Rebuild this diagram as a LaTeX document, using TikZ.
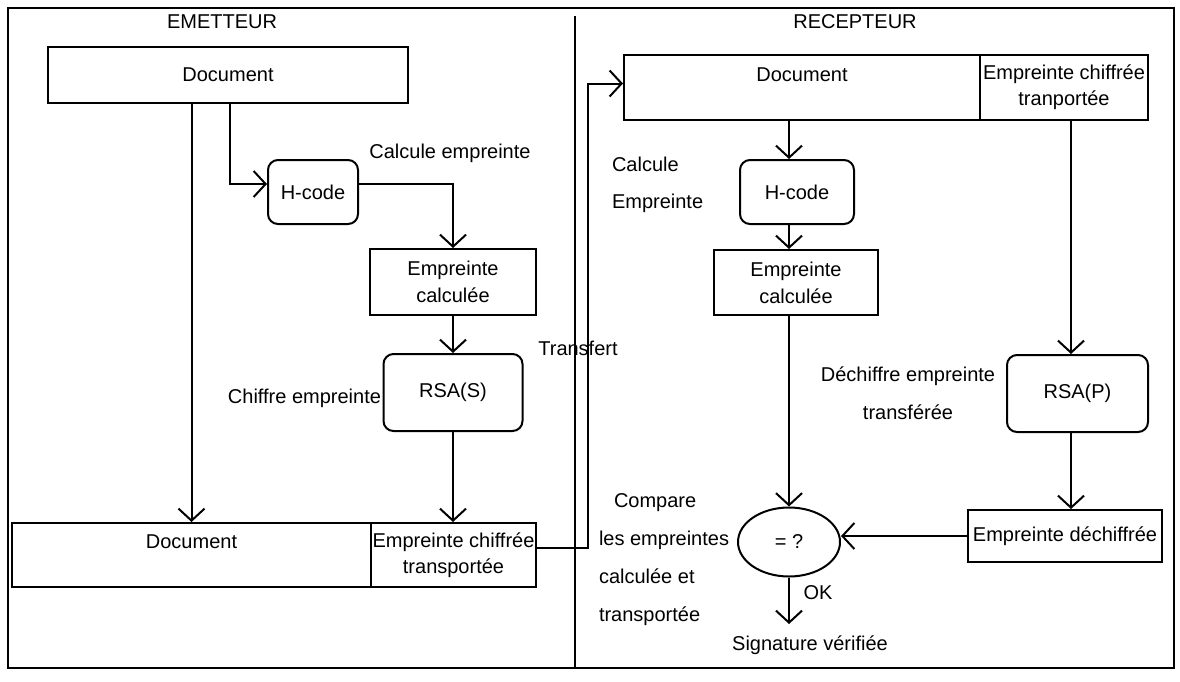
\documentclass[tikz,border=0pt]{standalone}
\usepackage{fontspec}
\setmainfont{Liberation Sans}
\usetikzlibrary{arrows.meta,shapes.geometric,calc}
\begin{document}
\begin{tikzpicture}[x=1pt,y=-1pt, line width=2pt,
  every node/.style={font=\fontsize{20}{24}\selectfont, inner sep=0pt},
  box/.style={draw, rectangle, align=center},
  rbox/.style={draw, rectangle, rounded corners=10pt, align=center},
  arr/.style={-{Straight Barb[length=12pt,width=26pt]}},
  lbl/.style={align=center}]
\useasboundingbox (0,0) rectangle (1180,681);
\draw (8,8) rectangle (1174,668);
\draw (575,16) -- (575,668);

% labels of sides
\node[lbl] (emet) at (222,22) {EMETTEUR};
\node[lbl] (recep) at (855,22) {RECEPTEUR};

% EMETTEUR
\node[box, minimum width=360pt, minimum height=56pt] (doc1) at (228,75) {Document};
\node[rbox, minimum width=90pt, minimum height=64pt] (hc1) at (313,192) {H-code};
\node[box, minimum width=166pt, minimum height=66pt] (ec1) at (453,282) {Empreinte\\[3pt]calculée};
\node[rbox, minimum width=139pt, minimum height=77pt] (rsaS) at (453,392.5) {RSA(S)};
\node[box, minimum width=359pt, minimum height=64pt] (doc2) at (191.5,555) {Document\\[2pt]\mbox{}};
\node[box, minimum width=165pt, minimum height=64pt] (ecT1) at (453.5,555) {Empreinte chiffrée\\[2pt]transportée};
\node[lbl] (calc1) at (450,153) {Calcule empreinte};
\node[lbl, anchor=east] (chif) at (382,398) {Chiffre empreinte};
\node[lbl] (transf) at (578,348) {Transfert};

% RECEPTEUR
\node[box, minimum width=356pt, minimum height=65pt] (doc3) at (802,87.5) {Document\\[2pt]\mbox{}};
\node[box, minimum width=168pt, minimum height=65pt] (ecT2) at (1064,87.5) {Empreinte chiffrée\\[2pt]tranportée};
\node[rbox, minimum width=114pt, minimum height=64pt] (hc2) at (797,192) {H-code};
\node[box, minimum width=164pt, minimum height=65pt] (ec2) at (796,282.5) {Empreinte\\[3pt]calculée};
\node[lbl, align=left, anchor=west] (calc2) at (611,184.5) {Calcule\\[13pt]Empreinte};
\node[draw, ellipse, minimum width=102pt, minimum height=69pt] (eq) at (789,542) {= ?};
\node[rbox, minimum width=141pt, minimum height=77pt] (rsaP) at (1077.5,393.5) {RSA(P)};
\node[box, minimum width=194pt, minimum height=52pt] (ed) at (1065,536) {Empreinte déchiffrée};
\node[lbl] (dech) at (908,393) {Déchiffre empreinte\\[14pt]transférée};
\node[lbl, align=left, anchor=west] (comp) at (598,560) {\hspace*{15pt}Compare\\[14pt]les empreintes\\[14pt]calculée et\\[14pt]transportée};
\node[lbl] (ok) at (818,593) {OK};
\node[lbl] (sig) at (810,645) {Signature vérifiée};
\coordinate (okend) at (789,624);
\coordinate (colR) at (1071,0);

% connectors left
\draw[arr] (doc1.south -| doc2.north) -- (doc2.north);
\draw[arr] ($(doc1.south)+(2,0)$) |- ($(hc1.west)+(0,-8)$);
\draw[arr] ($(hc1.east)+(0,-8)$) -| (ec1.north);
\draw[arr] (ec1.south) -- (rsaS.north);
\draw[arr] (rsaS.south) -- (ecT1.north -| rsaS.south);
\draw[arr] ($(ecT1.east)+(0,-7)$) -- ++(51,0) |- ($(doc3.west)+(0,-4)$);

% connectors right
\draw[arr] (doc3.south -| eq.north) -- (hc2.north -| eq.north);
\draw[arr] (hc2.south -| eq.north) -- (ec2.north -| eq.north);
\draw[arr] (ec2.south -| eq.north) -- (eq.north);
\draw[arr] (ecT2.south -| colR) -- (rsaP.north -| colR);
\draw[arr] (rsaP.south -| colR) -- (ed.north -| colR);
\draw[arr] (ed.west) -- (eq.east |- ed.west);
\draw[arr] (eq.south) -- (okend);
\end{tikzpicture}
\end{document}
